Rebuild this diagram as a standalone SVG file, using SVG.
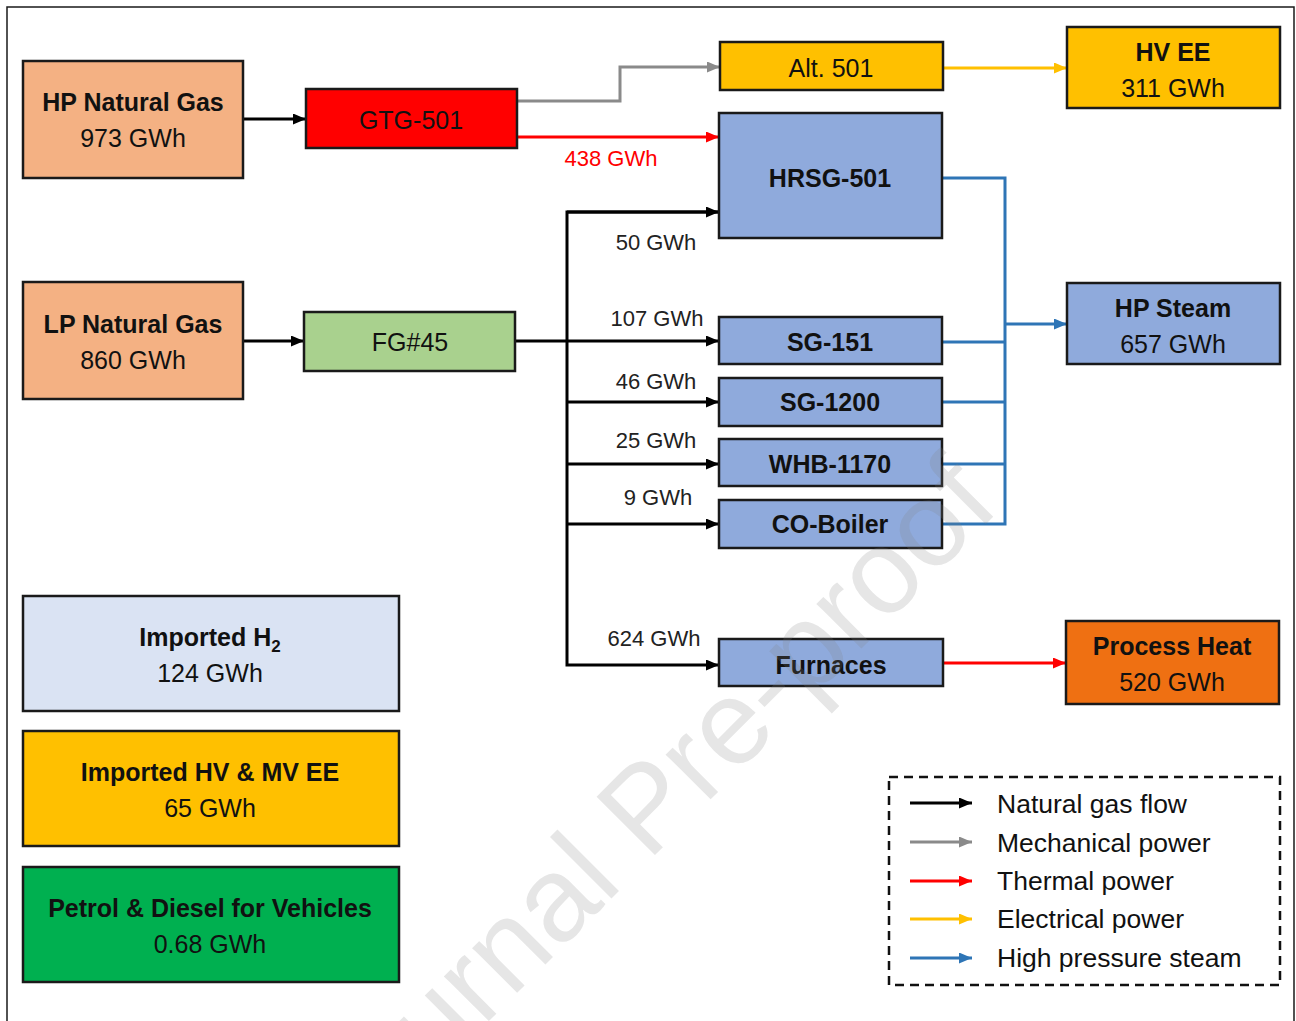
<svg xmlns="http://www.w3.org/2000/svg" width="1296" height="1021" viewBox="0 0 1296 1021">
<style>
.box{stroke:#1a1a1a;stroke-width:2.5}
.t{font-family:"Liberation Sans",Arial,sans-serif;font-size:25px;fill:#111;text-anchor:middle}
.b{font-weight:bold}
.lbl{font-family:"Liberation Sans",Arial,sans-serif;font-size:22px;fill:#222;text-anchor:middle}
.leg{font-family:"Liberation Sans",Arial,sans-serif;font-size:26.5px;fill:#111}
.c{fill:none;stroke-width:3}
.k{stroke:#000}
.g{stroke:#8a8a8a}
.r{stroke:#ff0000}
.y{stroke:#ffc000}
.bl{stroke:#2e75b6}
</style>
<defs>
<marker id="ak" markerUnits="userSpaceOnUse" markerWidth="13" markerHeight="11" viewBox="0 0 13 11" refX="13" refY="5.5" orient="auto"><path d="M0,0 L13,5.5 L0,11 z" fill="#000"/></marker>
<marker id="ag" markerUnits="userSpaceOnUse" markerWidth="13" markerHeight="11" viewBox="0 0 13 11" refX="13" refY="5.5" orient="auto"><path d="M0,0 L13,5.5 L0,11 z" fill="#8a8a8a"/></marker>
<marker id="ar" markerUnits="userSpaceOnUse" markerWidth="13" markerHeight="11" viewBox="0 0 13 11" refX="13" refY="5.5" orient="auto"><path d="M0,0 L13,5.5 L0,11 z" fill="#ff0000"/></marker>
<marker id="ay" markerUnits="userSpaceOnUse" markerWidth="13" markerHeight="11" viewBox="0 0 13 11" refX="13" refY="5.5" orient="auto"><path d="M0,0 L13,5.5 L0,11 z" fill="#ffc000"/></marker>
<marker id="ab" markerUnits="userSpaceOnUse" markerWidth="13" markerHeight="11" viewBox="0 0 13 11" refX="13" refY="5.5" orient="auto"><path d="M0,0 L13,5.5 L0,11 z" fill="#2e75b6"/></marker>
</defs>
<rect width="1296" height="1021" fill="#fff"/>
<path d="M7,1030 L7,7 L1294,7 L1294,1030" fill="none" stroke="#1a1a1a" stroke-width="1.5"/>

<g id="connectors">
<path class="c k" d="M243,119 L306,119" marker-end="url(#ak)"/>
<path class="c k" d="M243,341 L304,341" marker-end="url(#ak)"/>
<path class="c g" d="M517,101 L620,101 L620,67 L720,67" marker-end="url(#ag)"/>
<path class="c r" d="M517,137 L719,137" marker-end="url(#ar)"/>
<path class="c y" d="M943,68 L1067,68" marker-end="url(#ay)"/>
<path class="c k" d="M515,341 L719,341" marker-end="url(#ak)"/>
<path class="c k" d="M719,212 L567,212 L567,665 L719,665" marker-end="url(#ak)"/>
<path class="c k" d="M567,212 L719,212" marker-end="url(#ak)"/>
<path class="c k" d="M567,402 L719,402" marker-end="url(#ak)"/>
<path class="c k" d="M567,464 L719,464" marker-end="url(#ak)"/>
<path class="c k" d="M567,524 L719,524" marker-end="url(#ak)"/>
<path class="c bl" d="M942,178 L1005,178 L1005,524 L942,524"/>
<path class="c bl" d="M942,342 L1005,342 M942,402 L1005,402 M942,464 L1005,464"/>
<path class="c bl" d="M1005,324 L1067,324" marker-end="url(#ab)"/>
<path class="c r" d="M943,663 L1066,663" marker-end="url(#ar)"/>
<text class="lbl" x="611" y="166" style="fill:#ff0000">438 GWh</text>
<text class="lbl" x="656" y="250">50 GWh</text>
<text class="lbl" x="657" y="326">107 GWh</text>
<text class="lbl" x="656" y="389">46 GWh</text>
<text class="lbl" x="656" y="448">25 GWh</text>
<text class="lbl" x="658" y="505">9 GWh</text>
<text class="lbl" x="654" y="646">624 GWh</text>
</g>

<g id="hp-natural-gas"><rect class="box" x="23" y="61" width="220" height="117" fill="#f4b183"/><text class="t b" x="133" y="111">HP Natural Gas</text><text class="t" x="133" y="147">973 GWh</text></g>
<g id="gtg-501"><rect class="box" x="306" y="89" width="211" height="59" fill="#ff0000"/><text class="t" x="411" y="129">GTG-501</text></g>
<g id="alt-501"><rect class="box" x="720" y="42" width="223" height="48" fill="#ffc000"/><text class="t" x="831" y="77">Alt. 501</text></g>
<g id="hv-ee"><rect class="box" x="1067" y="27" width="213" height="81" fill="#ffc000"/><text class="t b" x="1173" y="61">HV EE</text><text class="t" x="1173" y="97">311 GWh</text></g>
<g id="hrsg-501"><rect class="box" x="719" y="113" width="223" height="125" fill="#8faadc"/><text class="t b" x="830" y="187">HRSG-501</text></g>
<g id="lp-natural-gas"><rect class="box" x="23" y="282" width="220" height="117" fill="#f4b183"/><text class="t b" x="133" y="333">LP Natural Gas</text><text class="t" x="133" y="369">860 GWh</text></g>
<g id="fg45"><rect class="box" x="304" y="312" width="211" height="59" fill="#a9d18e"/><text class="t" x="410" y="351">FG#45</text></g>
<g id="sg-151"><rect class="box" x="719" y="317" width="223" height="47" fill="#8faadc"/><text class="t b" x="830" y="351">SG-151</text></g>
<g id="sg-1200"><rect class="box" x="719" y="378" width="223" height="48" fill="#8faadc"/><text class="t b" x="830" y="411">SG-1200</text></g>
<g id="whb-1170"><rect class="box" x="719" y="439" width="223" height="47" fill="#8faadc"/><text class="t b" x="830" y="473">WHB-1170</text></g>
<g id="co-boiler"><rect class="box" x="719" y="500" width="223" height="48" fill="#8faadc"/><text class="t b" x="830" y="533">CO-Boiler</text></g>
<g id="hp-steam"><rect class="box" x="1067" y="283" width="213" height="81" fill="#8faadc"/><text class="t b" x="1173" y="317">HP Steam</text><text class="t" x="1173" y="353">657 GWh</text></g>
<g id="furnaces"><rect class="box" x="719" y="639" width="224" height="47" fill="#8faadc"/><text class="t b" x="831" y="674">Furnaces</text></g>
<g id="process-heat"><rect class="box" x="1066" y="621" width="213" height="83" fill="#ef7012"/><text class="t b" x="1172" y="655">Process Heat</text><text class="t" x="1172" y="691">520 GWh</text></g>
<g id="imported-h2"><rect class="box" x="23" y="596" width="376" height="115" fill="#dae3f3"/><text class="t b" x="210" y="646">Imported H<tspan font-size="17" dy="6">2</tspan></text><text class="t" x="210" y="682">124 GWh</text></g>
<g id="imported-ee"><rect class="box" x="23" y="731" width="376" height="115" fill="#ffc000"/><text class="t b" x="210" y="781">Imported HV &amp; MV EE</text><text class="t" x="210" y="817">65 GWh</text></g>
<g id="petrol-diesel"><rect class="box" x="23" y="867" width="376" height="115" fill="#00b050"/><text class="t b" x="210" y="917">Petrol &amp; Diesel for Vehicles</text><text class="t" x="210" y="953">0.68 GWh</text></g>

<g id="legend">
<rect x="889" y="777" width="391" height="208" fill="none" stroke="#111" stroke-width="2.5" stroke-dasharray="9,6"/>
<path class="c k" d="M910,803 L972,803" marker-end="url(#ak)"/>
<path class="c g" d="M910,842 L972,842" marker-end="url(#ag)"/>
<path class="c r" d="M910,881 L972,881" marker-end="url(#ar)"/>
<path class="c y" d="M910,919 L972,919" marker-end="url(#ay)"/>
<path class="c bl" d="M910,958 L972,958" marker-end="url(#ab)"/>
<text class="leg" x="997" y="813">Natural gas flow</text>
<text class="leg" x="997" y="852">Mechanical power</text>
<text class="leg" x="997" y="890">Thermal power</text>
<text class="leg" x="997" y="928">Electrical power</text>
<text class="leg" x="997" y="967">High pressure steam</text>
</g>

<text x="674" y="836" transform="rotate(-45 674 836)" font-family="'Liberation Sans',Arial,sans-serif" font-size="120" fill="#808080" fill-opacity="0.2" text-anchor="middle">Journal Pre-proof</text>
</svg>
